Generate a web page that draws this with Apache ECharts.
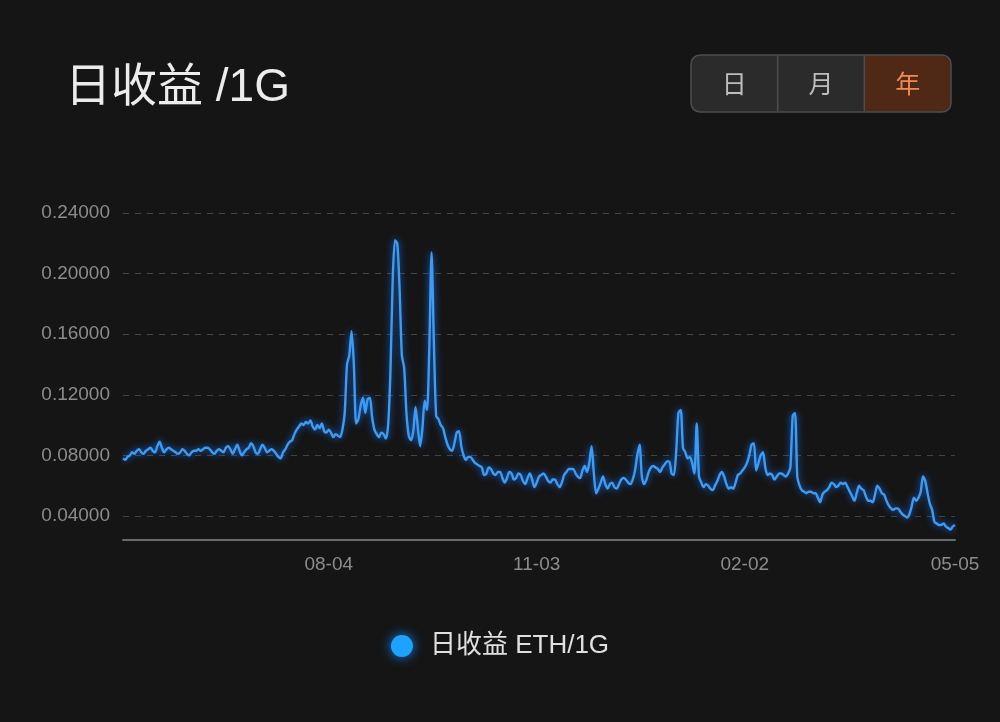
<!DOCTYPE html>
<html>
<head>
<meta charset="utf-8">
<script src="https://cdn.jsdelivr.net/npm/echarts@6/dist/echarts.min.js"></script>
<style>
html,body{margin:0;padding:0;background:#151515;}
#chart{width:1000px;height:722px;}
</style>
</head>
<body>
<div id="chart"></div>
<script>
// ---- data ----
const startDate = '2021-05-06';
const dayCount = 365;
const xTickLabels = ['08-04', '11-03', '02-02', '05-05'];
const yTickValues = [0.04, 0.08, 0.12, 0.16, 0.20, 0.24];
const seriesName = '日收益 ETH/1G';
const titleText = '日收益 /1G';
const periodButtons = ['日', '月', '年'];
const dailyYield = [
  0.078,0.077,0.079,0.080,0.082,0.081,0.083,0.084,0.082,0.081,
  0.083,0.084,0.085,0.083,0.082,0.086,0.089,0.085,0.082,0.084,
  0.085,0.084,0.083,0.082,0.081,0.082,0.084,0.083,0.081,0.080,
  0.082,0.083,0.083,0.084,0.083,0.084,0.085,0.085,0.084,0.082,
  0.081,0.083,0.084,0.083,0.082,0.085,0.086,0.084,0.081,0.084,
  0.087,0.083,0.080,0.082,0.084,0.085,0.088,0.086,0.082,0.081,
  0.084,0.087,0.085,0.082,0.083,0.084,0.083,0.081,0.079,0.078,
  0.082,0.084,0.087,0.089,0.090,0.094,0.097,0.099,0.101,0.100,
  0.102,0.101,0.103,0.099,0.097,0.100,0.098,0.101,0.096,0.095,
  0.097,0.095,0.092,0.094,0.093,0.092,0.097,0.108,0.140,0.146,
  0.162,0.140,0.101,0.104,0.113,0.118,0.108,0.117,0.118,0.105,
  0.097,0.094,0.092,0.095,0.094,0.091,0.100,0.135,0.196,0.222,
  0.220,0.190,0.146,0.138,0.108,0.093,0.090,0.096,0.112,0.098,
  0.086,0.098,0.116,0.110,0.150,0.214,0.155,0.106,0.104,0.100,
  0.098,0.092,0.087,0.084,0.083,0.088,0.095,0.096,0.086,0.080,
  0.077,0.079,0.079,0.077,0.075,0.074,0.073,0.072,0.067,0.068,
  0.072,0.071,0.068,0.067,0.069,0.069,0.065,0.062,0.065,0.069,
  0.068,0.064,0.065,0.068,0.067,0.063,0.061,0.065,0.068,0.064,
  0.059,0.062,0.066,0.067,0.068,0.066,0.063,0.062,0.064,0.064,
  0.061,0.059,0.062,0.067,0.069,0.071,0.071,0.071,0.068,0.066,
  0.065,0.070,0.073,0.069,0.075,0.086,0.068,0.055,0.058,0.062,
  0.066,0.061,0.058,0.061,0.062,0.059,0.058,0.061,0.064,0.065,
  0.064,0.062,0.061,0.064,0.070,0.080,0.087,0.066,0.061,0.064,
  0.069,0.072,0.073,0.072,0.071,0.069,0.072,0.074,0.076,0.076,
  0.068,0.067,0.082,0.108,0.110,0.085,0.082,0.078,0.079,0.075,
  0.068,0.101,0.066,0.062,0.059,0.061,0.060,0.058,0.057,0.060,
  0.063,0.067,0.069,0.066,0.061,0.058,0.059,0.058,0.062,0.067,
  0.068,0.070,0.072,0.075,0.080,0.087,0.088,0.070,0.075,0.080,
  0.082,0.072,0.067,0.068,0.067,0.064,0.066,0.068,0.068,0.067,
  0.066,0.068,0.072,0.106,0.108,0.066,0.060,0.057,0.056,0.055,
  0.056,0.056,0.055,0.055,0.052,0.049,0.054,0.056,0.057,0.059,
  0.062,0.061,0.059,0.060,0.062,0.061,0.062,0.059,0.056,0.053,
  0.050,0.055,0.060,0.058,0.057,0.053,0.050,0.050,0.049,0.054,
  0.060,0.058,0.055,0.054,0.050,0.047,0.045,0.044,0.045,0.045,
  0.043,0.041,0.040,0.039,0.041,0.046,0.052,0.050,0.052,0.056,
  0.066,0.063,0.055,0.048,0.044,0.036,0.035,0.034,0.034,0.035,
  0.033,0.032,0.031,0.033,0.034
];

// calendar categories (MM-DD), one per day
const dates = [];
(function () {
  const d0 = new Date(startDate + 'T00:00:00Z');
  for (let i = 0; i < dayCount; i++) {
    const d = new Date(d0.getTime() + i * 86400000);
    const mm = String(d.getUTCMonth() + 1).padStart(2, '0');
    const dd = String(d.getUTCDate()).padStart(2, '0');
    dates.push(mm + '-' + dd);
  }
})();

const FONT = "'Liberation Sans', 'Noto Sans CJK SC', sans-serif";
const CJK = "'Noto Sans CJK SC', sans-serif";
const chart = echarts.init(document.getElementById('chart'), null, {renderer: 'canvas'});

// buttons
const btnX = 691, btnY = 55, btnW = 260, btnH = 57;
const segW = btnW / 3;
const buttonEls = [
  {type: 'rect', shape: {x: btnX, y: btnY, width: btnW, height: btnH, r: 9},
   style: {fill: '#2b2b2b', stroke: '#4e4e4e', lineWidth: 1.5}},
  {type: 'rect', shape: {x: btnX + 2 * segW, y: btnY + 1, width: segW - 1, height: btnH - 2, r: [0, 8, 8, 0]},
   style: {fill: '#502816'}},
  {type: 'line', shape: {x1: btnX + segW, y1: btnY + 1, x2: btnX + segW, y2: btnY + btnH - 1},
   style: {stroke: '#4e4e4e', lineWidth: 1.5}},
  {type: 'line', shape: {x1: btnX + 2 * segW, y1: btnY + 1, x2: btnX + 2 * segW, y2: btnY + btnH - 1},
   style: {stroke: '#4e4e4e', lineWidth: 1.5}}
];
periodButtons.forEach(function (t, i) {
  buttonEls.push({
    type: 'text', x: btnX + segW * (i + 0.5), y: btnY + btnH / 2,
    style: {text: t, fontSize: 25, fontFamily: CJK, fill: i === 2 ? '#ef8a52' : '#bdbdbd',
            align: 'center', verticalAlign: 'middle'}
  });
});

const option = {
  backgroundColor: '#151515',
  animation: false,
  title: {
    text: titleText, left: 60, top: 60,
    textStyle: {color: '#ececec', fontSize: 46, fontWeight: 'normal', fontFamily: FONT}
  },
  graphic: buttonEls,
  legend: {
    data: [{name: seriesName, icon: 'circle'}],
    bottom: 58, left: 'center',
    itemWidth: 22, itemHeight: 22, itemGap: 12,
    textStyle: {color: '#e0e0e0', fontSize: 26, fontFamily: FONT, padding: [0, 0, 0, 12]},
    itemStyle: {color: '#1ea2ff', shadowBlur: 12, shadowColor: 'rgba(20,140,255,0.9)'}
  },
  grid: {left: 123, right: 45, top: 213, bottom: 145.5, containLabel: false},
  xAxis: {
    type: 'category', data: dates, boundaryGap: false,
    offset: -36.5,
    axisLine: {show: true, onZero: false, lineStyle: {color: '#6a6a6a', width: 2}},
    axisTick: {show: false},
    axisLabel: {
      color: '#8c8c8c', fontSize: 19, margin: 15, fontFamily: "'Liberation Sans', sans-serif",
      interval: function (idx, val) { return xTickLabels.indexOf(val) >= 0 && idx > 0; }
    },
    splitLine: {show: false}
  },
  yAxis: {
    type: 'value', min: 0, max: 0.24, interval: 0.04,
    axisLine: {show: false}, axisTick: {show: false},
    axisLabel: {
      color: '#8c8c8c', fontSize: 19, margin: 13, showMinLabel: false,
      fontFamily: "'Liberation Sans', sans-serif",
      formatter: function (v) { return yTickValues.some(t => Math.abs(t - v) < 1e-9) ? v.toFixed(5) : ''; }
    },
    splitLine: {show: true, showMinLine: false, lineStyle: {color: '#444444', type: [6, 6], width: 1}}
  },
  series: [{
    name: seriesName, type: 'line', data: dailyYield,
    showSymbol: false, symbol: 'none', smooth: 0.25,
    itemStyle: {color: '#1ea2ff'},
    lineStyle: {color: '#3d9cf2', width: 2.4, shadowBlur: 7, shadowColor: 'rgba(25,110,230,0.95)'}
  }]
};
chart.setOption(option);
</script>
</body>
</html>
